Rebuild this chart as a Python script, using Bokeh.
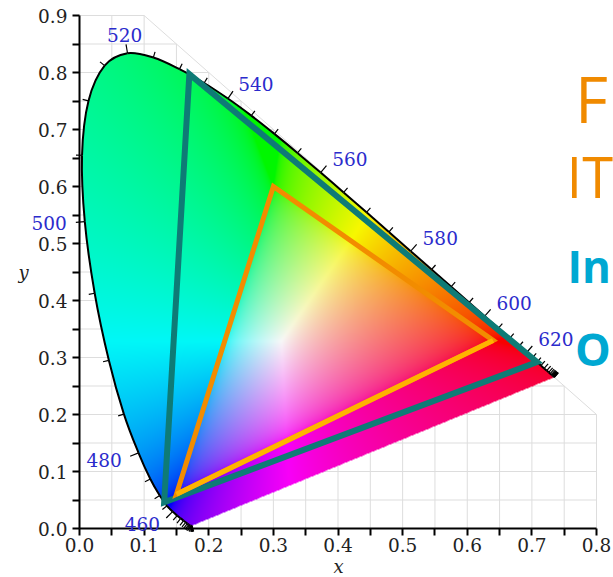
import numpy as np
from bokeh.plotting import figure
from bokeh.models import FixedTicker, PrintfTickFormatter, Label
from bokeh.embed import file_html
from bokeh.resources import INLINE

# ---------------- data ----------------
wavelengths = list(range(380, 705, 5))
locus_x = [0.1741, 0.1740, 0.1738, 0.1736, 0.1733, 0.1730, 0.1726, 0.1721,
           0.1714, 0.1703, 0.1689, 0.1669, 0.1644, 0.1611, 0.1566, 0.1510,
           0.1440, 0.1355, 0.1241, 0.1096, 0.0913, 0.0687, 0.0454, 0.0235,
           0.0082, 0.0039, 0.0139, 0.0389, 0.0743, 0.1142, 0.1547, 0.1929,
           0.2296, 0.2658, 0.3016, 0.3373, 0.3731, 0.4087, 0.4441, 0.4788,
           0.5125, 0.5448, 0.5752, 0.6029, 0.6270, 0.6482, 0.6658, 0.6801,
           0.6915, 0.7006, 0.7079, 0.7140, 0.7190, 0.7230, 0.7260, 0.7283,
           0.7300, 0.7311, 0.7320, 0.7327, 0.7334, 0.7340, 0.7344, 0.7346,
           0.7347]
locus_y = [0.0050, 0.0050, 0.0049, 0.0049, 0.0048, 0.0048, 0.0048, 0.0048,
           0.0051, 0.0058, 0.0069, 0.0086, 0.0109, 0.0138, 0.0177, 0.0227,
           0.0297, 0.0399, 0.0578, 0.0868, 0.1327, 0.2007, 0.2950, 0.4127,
           0.5384, 0.6548, 0.7502, 0.8120, 0.8338, 0.8262, 0.8059, 0.7816,
           0.7543, 0.7243, 0.6923, 0.6589, 0.6245, 0.5896, 0.5547, 0.5202,
           0.4866, 0.4544, 0.4242, 0.3965, 0.3725, 0.3514, 0.3340, 0.3197,
           0.3083, 0.2993, 0.2920, 0.2859, 0.2809, 0.2770, 0.2740, 0.2717,
           0.2700, 0.2689, 0.2680, 0.2673, 0.2666, 0.2660, 0.2656, 0.2654,
           0.2653]
label_wavelengths = [460, 480, 500, 520, 540, 560, 580, 600, 620]

rec2020_x = [0.708, 0.170, 0.131]
rec2020_y = [0.292, 0.797, 0.046]
rec709_x = [0.640, 0.300, 0.150]
rec709_y = [0.330, 0.600, 0.060]

x_ticks = [0.0, 0.1, 0.2, 0.3, 0.4, 0.5, 0.6, 0.7, 0.8]
x_minor = [0.05, 0.15, 0.25, 0.35, 0.45, 0.55, 0.65, 0.75]
y_ticks = [0.0, 0.1, 0.2, 0.3, 0.4, 0.5, 0.6, 0.7, 0.8, 0.9]
y_minor = [0.05, 0.15, 0.25, 0.35, 0.45, 0.55, 0.65, 0.75, 0.85]
grid_x = [0.05 * k for k in range(1, 17)]
grid_y = [0.05 * k for k in range(1, 19)]

side_texts = ["F", "IT", "In", "O"]

# ---------------- layout ----------------
W, H = 613, 577
OX, OY = 79, 528          # canvas position of the data origin
SX, SY = 646.25, 570.0    # pixels per data unit


def px2x(cx):
    return (cx - OX) / SX


def py2y(cy):
    return (OY - cy) / SY


p = figure(width=W, height=H, x_range=(px2x(0), px2x(W)), y_range=(py2y(H), py2y(0)),
           min_border=0, min_border_left=0, min_border_right=0, min_border_top=0,
           min_border_bottom=0, toolbar_location=None, output_backend="svg")
p.outline_line_color = None
p.grid.visible = False

# grid clipped to x + y <= 1
gx0, gy0, gx1, gy1 = [], [], [], []
for gx in grid_x:
    gx0.append(gx); gy0.append(0.0); gx1.append(gx); gy1.append(min(0.9, 1.0 - gx))
for gy in grid_y:
    gx0.append(0.0); gy0.append(gy); gx1.append(min(0.8, 1.0 - gy)); gy1.append(gy)
gx0.append(0.1); gy0.append(0.9); gx1.append(0.8); gy1.append(0.2)
p.segment(gx0, gy0, gx1, gy1, line_color="#dddddd", line_width=1)

# ---------------- smooth locus (Catmull-Rom as cubic Bezier) ----------------
lx = np.array(locus_x)
ly = np.array(locus_y)
P = np.stack([lx, ly], axis=1)
Pp = np.vstack([P[:1], P, P[-1:]])
b0 = Pp[1:-2]
b3 = Pp[2:-1]
c1 = b0 + (Pp[2:-1] - Pp[0:-3]) / 6.0
c2 = b3 - (Pp[3:] - Pp[1:-2]) / 6.0

tt = np.linspace(0, 1, 12)[:-1]
dense = []
for k in range(len(b0)):
    for t in tt:
        u = 1 - t
        dense.append(u ** 3 * b0[k] + 3 * u * u * t * c1[k] + 3 * u * t * t * c2[k] + t ** 3 * b3[k])
dense.append(P[-1])
dense = np.array(dense)

# ---------------- colour fill ----------------
NX, NY = 517, 513
xs = (np.arange(NX) + 0.5) * 0.8 / NX
ys = (np.arange(NY) + 0.5) * 0.9 / NY
xx, yy = np.meshgrid(xs, ys)


def inside(px, py, vx, vy):
    res = np.zeros(px.shape, dtype=bool)
    n = len(vx)
    j = n - 1
    for i in range(n):
        xi, yi, xj, yj = vx[i], vy[i], vx[j], vy[j]
        if yj != yi:
            cond = (yi > py) != (yj > py)
            xint = (xj - xi) * (py - yi) / (yj - yi) + xi
            res ^= cond & (px < xint)
        j = i
    return res


mask = inside(xx, yy, dense[:, 0], dense[:, 1])
Xc = xx / yy
Zc = (1.0 - xx - yy) / yy
r = 3.2406 * Xc - 1.5372 - 0.4986 * Zc
g = -0.9689 * Xc + 1.8758 + 0.0415 * Zc
b = 0.0557 * Xc - 0.2040 + 1.0570 * Zc
rgb = np.stack([r, g, b])
mn = rgb.min(axis=0)
rgb = rgb + np.where(mn < 0, -0.4 * mn, 0.0)
rgb = np.clip(rgb, 0, None)
rgb = rgb / np.maximum(rgb.max(axis=0), 1e-9)
rgb = np.where(rgb <= 0.0031308, 12.92 * rgb, 1.055 * np.power(rgb, 1 / 2.4) - 0.055)
rgb = np.clip(rgb * 248, 0, 255).astype(np.uint8)
img = np.zeros((NY, NX), dtype=np.uint32)
view = img.view(dtype=np.uint8).reshape((NY, NX, 4))
view[..., 0] = rgb[0]
view[..., 1] = rgb[1]
view[..., 2] = rgb[2]
view[..., 3] = np.where(mask, 255, 0)
p.image_rgba(image=[img], x=0, y=0, dw=0.8, dh=0.9)

# spectral locus outline
p.bezier(x0=b0[:, 0], y0=b0[:, 1], x1=b3[:, 0], y1=b3[:, 1],
         cx0=c1[:, 0], cy0=c1[:, 1], cx1=c2[:, 0], cy1=c2[:, 1],
         line_color="black", line_width=2)

# locus ticks and wavelength labels
spx = lx * SX
spy = ly * SY
tx = np.gradient(spx)
ty = np.gradient(spy)
nrm = np.maximum(np.hypot(tx, ty), 1e-9)
nx_ = -ty / nrm
ny_ = tx / nrm
tlen = np.array([9.0 if w in label_wavelengths else 6.0 for w in wavelengths])
p.segment(lx, ly, lx + nx_ * tlen / SX, ly + ny_ * tlen / SY,
          line_color="black", line_width=1.2)

for wl in label_wavelengths:
    i = wavelengths.index(wl)
    off = 18.0
    ax = float(lx[i] + nx_[i] * off / SX)
    ay = float(ly[i] + ny_[i] * off / SY)
    if nx_[i] > 0.3:
        al = "left"
    elif nx_[i] < -0.3:
        al = "right"
    else:
        al = "center"
    p.add_layout(Label(x=ax, y=ay, text=str(wl), text_align=al, text_baseline="middle",
                       text_font="DejaVu Serif", text_font_size="18.5px",
                       text_color="#2b2bcc"))

# gamut triangles
p.patch(rec2020_x + rec2020_x[:1], rec2020_y + rec2020_y[:1], fill_alpha=0,
        line_color="#0e7b76", line_width=6, line_join="miter")
p.patch(rec709_x + rec709_x[:1], rec709_y + rec709_y[:1], fill_alpha=0,
        line_color="#f28c00", line_width=5, line_join="miter")
p.line([rec709_x[2], rec709_x[0]], [rec709_y[2], rec709_y[0]],
       line_color="#ffb300", line_width=5)

# axes, fixed at the data origin
for ax_, ticks, minor, bnd, stand in ((p.xaxis[0], x_ticks, x_minor, (0, 0.8), 2),
                                      (p.yaxis[0], y_ticks, y_minor, (0, 0.9), 5)):
    ax_.fixed_location = 0
    ax_.ticker = FixedTicker(ticks=ticks, minor_ticks=minor)
    ax_.formatter = PrintfTickFormatter(format="%.1f")
    ax_.bounds = bnd
    ax_.axis_line_width = 2
    ax_.axis_line_color = "black"
    ax_.major_tick_line_width = 2
    ax_.minor_tick_line_width = 2
    ax_.major_tick_line_color = "black"
    ax_.minor_tick_line_color = "black"
    ax_.major_tick_in = 0
    ax_.major_tick_out = 7
    ax_.minor_tick_in = 0
    ax_.minor_tick_out = 7
    ax_.major_label_standoff = stand
    ax_.major_label_text_font = "DejaVu Serif"
    ax_.major_label_text_font_size = "18.5px"
    ax_.major_label_text_color = "#222222"

p.add_layout(Label(x=px2x(338), y=py2y(566), text="x", text_align="center",
                   text_baseline="middle", text_font="DejaVu Serif",
                   text_font_style="italic", text_font_size="18px", text_color="#222222"))
p.add_layout(Label(x=px2x(23), y=py2y(272), text="y", text_align="center",
                   text_baseline="middle", text_font="DejaVu Serif",
                   text_font_style="italic", text_font_size="18px", text_color="#222222"))

# side texts, sized so that they stay inside the picture
side_specs = [(574.5, 98.3, "normal", "64px", "#f08a00"),
              (566.0, 175.0, "normal", "56px", "#f08a00"),
              (567.0, 265.0, "bold", "44px", "#00a8d2"),
              (574.5, 348.0, "bold", "45px", "#00a8d2")]
for txt, (lx0, base, style, size, col) in zip(side_texts, side_specs):
    p.add_layout(Label(x=px2x(lx0), y=py2y(base), text=txt, text_align="left",
                       text_baseline="alphabetic", text_font="Open Sans",
                       text_font_style=style, text_font_size=size, text_color=col))

open("out.html", "w").write(file_html(p, INLINE))
